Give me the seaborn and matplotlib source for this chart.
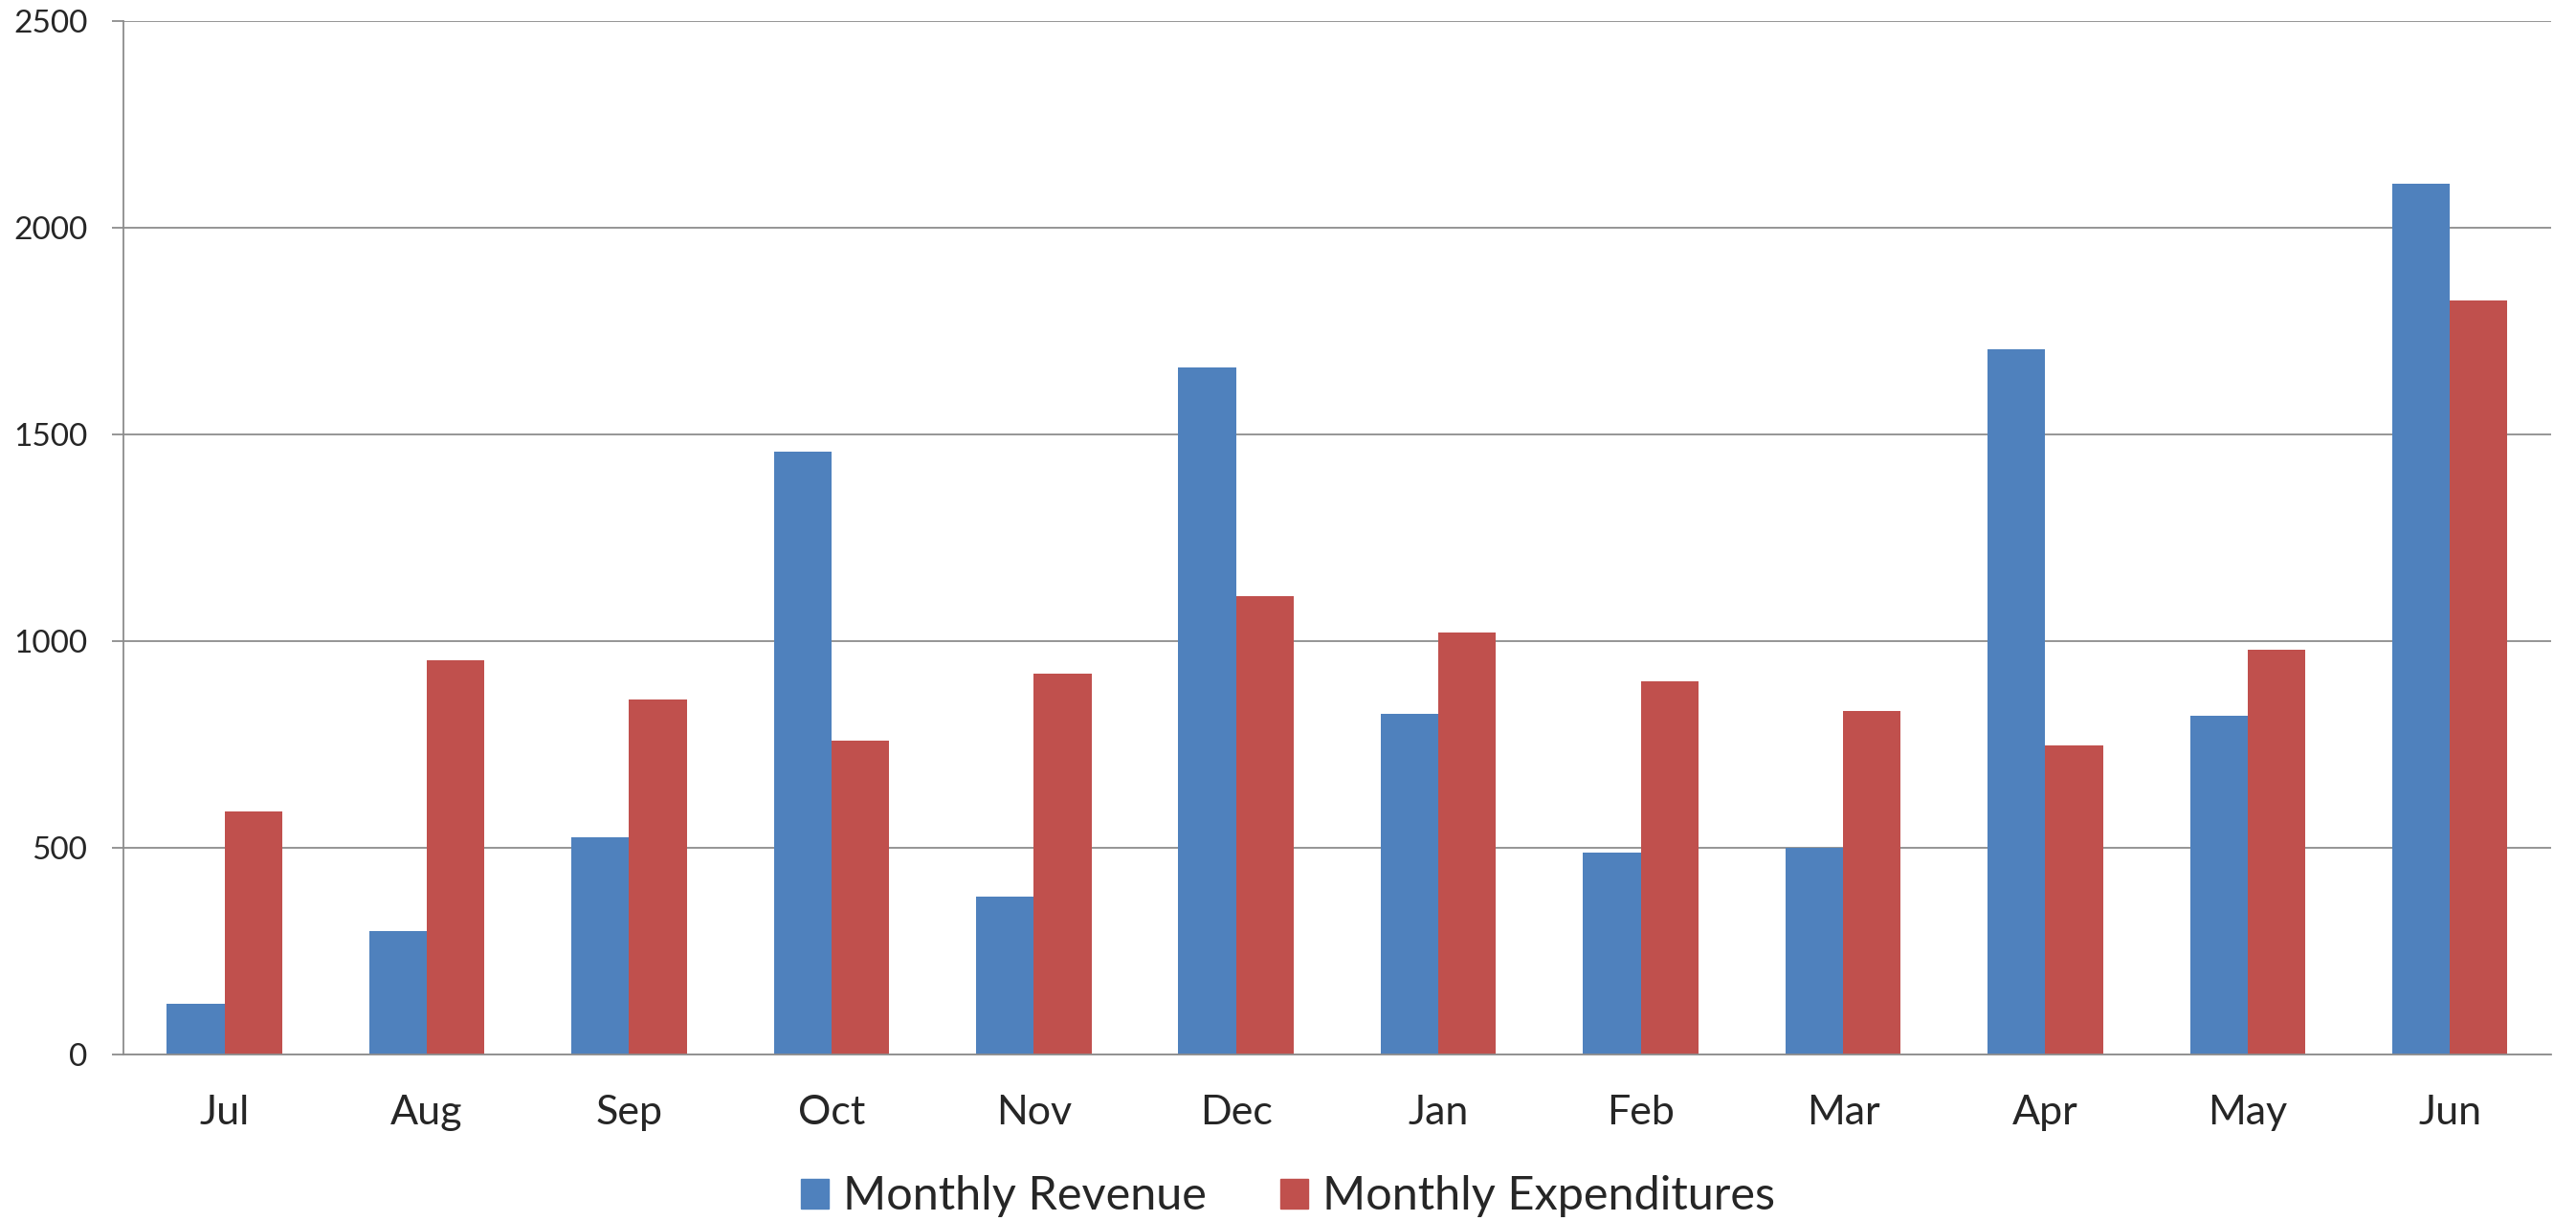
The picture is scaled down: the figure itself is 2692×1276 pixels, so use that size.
import numpy as np
import pandas as pd
import seaborn as sns
import matplotlib.pyplot as plt
from matplotlib.ticker import MultipleLocator, FixedLocator

months = ['Jul', 'Aug', 'Sep', 'Oct', 'Nov', 'Dec', 'Jan', 'Feb', 'Mar', 'Apr', 'May', 'Jun']
revenue = [123, 298, 525, 1459, 382, 1661, 823, 489, 501, 1705, 819, 2107]
expenditures = [588, 954, 858, 759, 922, 1109, 1021, 902, 831, 747, 978, 1824]
series = ['Monthly Revenue', 'Monthly Expenditures']
colors = ['#4F81BD', '#C0504D']

df = pd.DataFrame({
    'month': months * 2,
    'value': revenue + expenditures,
    'series': [series[0]] * len(months) + [series[1]] * len(months),
})

sns.set_style('white')
plt.rcParams['font.family'] = ['Lato', 'DejaVu Sans']

fig = plt.figure(figsize=(26.92, 12.76), dpi=100)
ax = fig.add_axes([0.0479, 0.1364, 0.9424, 0.8464])

sns.barplot(data=df, x='month', y='value', hue='series', order=months,
            hue_order=series, palette=colors, width=0.57, gap=0,
            saturation=1, linewidth=0, ax=ax, legend=False)

grid_c = '#8C8C8C'
ax.set_ylim(0, 2500)
ax.set_xlim(-0.5, len(months) - 0.5)
ax.yaxis.set_major_locator(MultipleLocator(500))
ax.grid(axis='y', color=grid_c, linewidth=1.3)
ax.set_axisbelow(True)
for s in ['top', 'right']:
    ax.spines[s].set_visible(False)
for s in ['left', 'bottom']:
    ax.spines[s].set_color(grid_c)
    ax.spines[s].set_linewidth(1.3)

ax.xaxis.set_minor_locator(FixedLocator(np.arange(-0.5, len(months), 1.0)))
ax.tick_params(axis='x', which='major', length=0, pad=30, labelsize=31)
ax.tick_params(axis='x', which='minor', length=11, width=1.3, color=grid_c, direction='out')
ax.tick_params(axis='y', length=9, width=1.3, color=grid_c, direction='out',
               pad=18, labelsize=24, left=True)
ax.set_xlabel('')
ax.set_ylabel('')

handles = [plt.Rectangle((0, 0), 1, 1, color=c) for c in colors]
fig.legend(handles, series, loc='center', bbox_to_anchor=(0.5, 0.02), ncol=2,
           frameon=False, fontsize=35, handlelength=0.6, handleheight=0.6,
           handletextpad=0.3, columnspacing=1.6)

fig.savefig('out.png', dpi=100)
